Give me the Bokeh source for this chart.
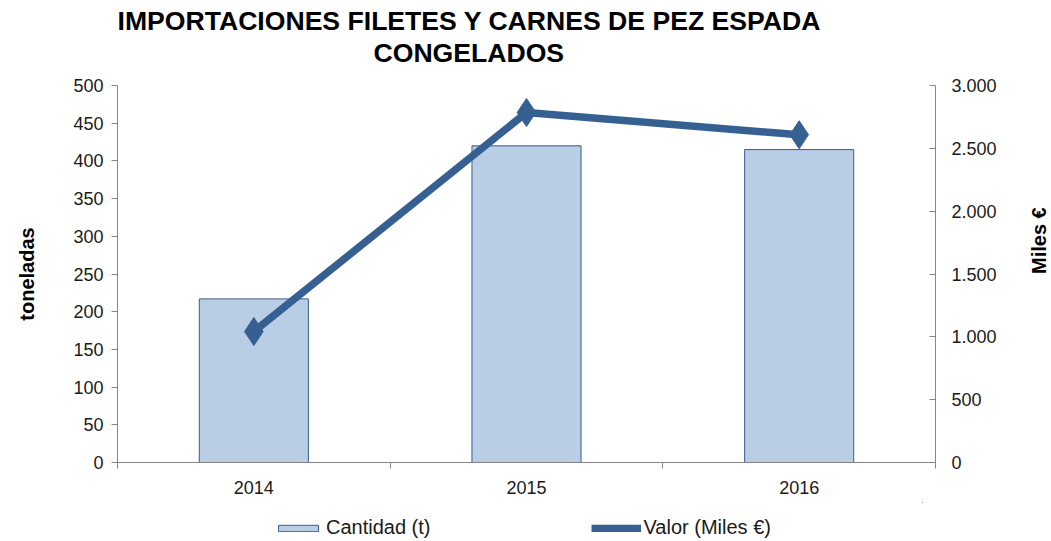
import math
from bokeh.plotting import figure
from bokeh.layouts import column
from bokeh.models import (Range1d, LinearAxis, FixedTicker, Legend, LegendItem, Title, ColumnDataSource)
from bokeh.embed import file_html
from bokeh.resources import INLINE

years = ["2014", "2015", "2016"]
cantidad = [217, 420, 415]
valor = [1042, 2785, 2608]

left_ticks = list(range(0, 501, 50))
right_ticks = list(range(0, 3001, 500))

def fmt_es(v):
    return f"{v:,}".replace(",", ".")

xpos = [i + 0.5 for i in range(len(years))]
src = ColumnDataSource(dict(x=xpos, cantidad=cantidad, valor=valor))

FONT = "Liberation Sans"
AXC = "#868686"
TXT = "#1a1a1a"
BAR_FILL = "#B9CDE5"
BAR_LINE = "#385D8A"
LINE_C = "#376092"

p = figure(frame_width=818, frame_height=377, output_backend="svg", toolbar_location=None,
           x_range=Range1d(0, len(years)), y_range=Range1d(0, 500),
           min_border_left=117, min_border_right=115, min_border_top=85, min_border_bottom=40)
p.extra_y_ranges = {"valor": Range1d(0, 3000)}
p.xgrid.visible = False
p.ygrid.visible = False
p.outline_line_color = None
p.background_fill_color = "white"
p.border_fill_color = "white"

bars = p.vbar(x="x", top="cantidad", width=0.4, source=src,
              fill_color=BAR_FILL, line_color=BAR_LINE, line_width=1)
ln = p.line(x="x", y="valor", source=src, y_range_name="valor",
            line_color=LINE_C, line_width=7.5)
mk = p.scatter(x="x", y="valor", source=src, y_range_name="valor", marker="diamond",
               size=28, fill_color=LINE_C, line_color=LINE_C)

# x axis
xa = p.xaxis[0]
xa.ticker = FixedTicker(ticks=xpos, minor_ticks=list(range(len(years) + 1)))
xa.major_label_overrides = {x: y for x, y in zip(xpos, years)}
xa.major_tick_line_color = None
xa.minor_tick_line_color = AXC
xa.minor_tick_out = 6
xa.minor_tick_in = 0
xa.axis_line_color = AXC
xa.major_label_text_font = FONT
xa.major_label_text_font_size = "18px"
xa.major_label_text_color = TXT
xa.major_label_standoff = 12

# left axis
ya = p.yaxis[0]
ya.ticker = FixedTicker(ticks=left_ticks)
ya.minor_tick_line_color = None
ya.major_tick_out = 6
ya.major_tick_in = 0
ya.major_tick_line_color = AXC
ya.axis_line_color = AXC
ya.major_label_text_font = FONT
ya.major_label_text_font_size = "18px"
ya.major_label_text_color = TXT
ya.major_label_standoff = 8
ya.axis_label = "toneladas"
ya.axis_label_text_font = FONT
ya.axis_label_text_font_style = "bold"
ya.axis_label_text_font_size = "20px"
ya.axis_label_text_color = "black"
ya.axis_label_standoff = 32

# right axis
ra = LinearAxis(y_range_name="valor", ticker=FixedTicker(ticks=right_ticks))
ra.major_label_overrides = {t: fmt_es(t) for t in right_ticks}
ra.minor_tick_line_color = None
ra.major_tick_out = 0
ra.major_tick_in = 6
ra.major_tick_line_color = AXC
ra.axis_line_color = AXC
ra.major_label_text_font = FONT
ra.major_label_text_font_size = "18px"
ra.major_label_text_color = TXT
ra.major_label_standoff = 16
ra.axis_label = "Miles €"
ra.axis_label_text_font = FONT
ra.axis_label_text_font_style = "bold"
ra.axis_label_text_font_size = "20px"
ra.axis_label_text_color = "black"
ra.axis_label_standoff = 39
ra.axis_label_orientation = math.pi / 2
p.add_layout(ra, "right")

# titles
t2 = Title(text="CONGELADOS", align="left", offset=256, text_font=FONT,
           text_font_size="26.6px", text_font_style="bold", text_color="black", standoff=35)
t1 = Title(text="IMPORTACIONES FILETES Y CARNES DE PEZ ESPADA", align="left", offset=0,
           text_font=FONT, text_font_size="26.6px", text_font_style="bold", text_color="black",
           standoff=-34)
p.title = None
p.add_layout(t2, "above")
p.add_layout(t1, "above")

# legend strip below the chart (its own renderers use the same data, kept outside its view)
lf = figure(width=1050, height=39, output_backend="svg", toolbar_location=None,
            x_range=Range1d(-20, -19), y_range=Range1d(-20, -19),
            x_axis_type=None, y_axis_type=None, min_border=0)
lf.outline_line_color = None
lf.background_fill_color = "white"
lf.border_fill_color = "white"
lbar = lf.vbar(x="x", top="cantidad", width=0.4, source=src,
               fill_color=BAR_FILL, line_color=BAR_LINE, line_width=1)
lln = lf.line(x="x", y="valor", source=src, line_color=LINE_C, line_width=7.5)
lmk = lf.scatter(x="x", y="valor", source=src, marker="diamond", size=12,
                 fill_color=LINE_C, line_color=LINE_C)

legend = Legend(items=[LegendItem(label="Cantidad (t)", renderers=[lbar]),
                       LegendItem(label="Valor (Miles €)", renderers=[lln, lmk])],
                orientation="horizontal", location=(156, 2), spacing=160,
                label_text_font=FONT, label_text_font_size="20px", label_text_color=TXT,
                glyph_width=50, glyph_height=8, label_standoff=3,
                border_line_color=None, background_fill_alpha=0, margin=0, padding=1)
lf.add_layout(legend, "center")

layout = column(p, lf, spacing=0)
open("out.html", "w").write(file_html(layout, INLINE))
